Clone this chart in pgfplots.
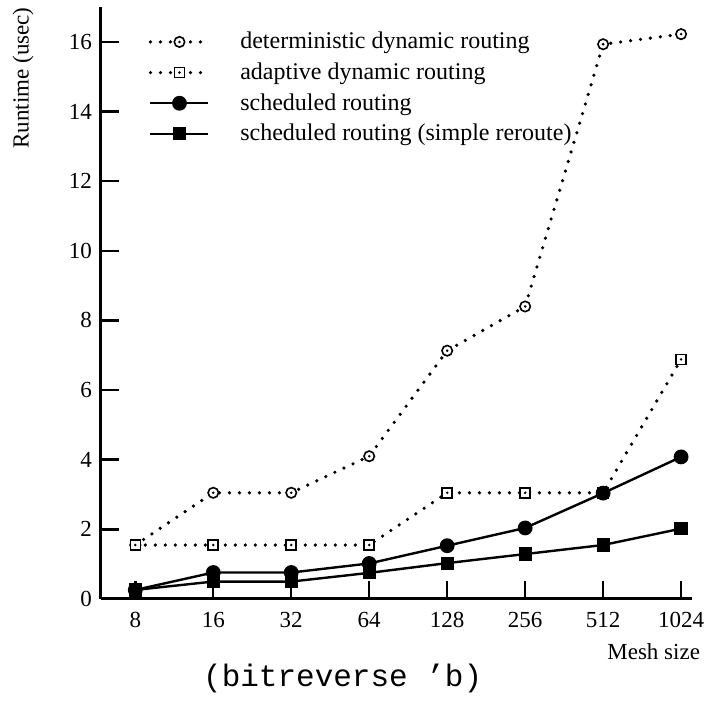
\documentclass[border=0pt]{standalone}
\usepackage{fontspec}
\setmainfont{Liberation Serif}
\setmonofont{Liberation Mono}
\usepackage{pgfplots}
\pgfplotsset{compat=1.18}

\pgfdeclareplotmark{odot}{%
  \pgfpathcircle{\pgfpointorigin}{\pgfplotmarksize}%
  \pgfusepathqfillstroke
  \begin{pgfscope}%
  \pgfpathcircle{\pgfpointorigin}{0.7pt}%
  \pgfsetfillcolor{black}\pgfusepathqfill
  \end{pgfscope}}
\pgfdeclareplotmark{sqdot}{%
  \pgfpathrectangle{\pgfqpoint{-\pgfplotmarksize}{-\pgfplotmarksize}}{\pgfqpoint{2\pgfplotmarksize}{2\pgfplotmarksize}}%
  \pgfusepathqfillstroke
  \begin{pgfscope}%
  \pgfpathcircle{\pgfpointorigin}{0.7pt}%
  \pgfsetfillcolor{black}\pgfusepathqfill
  \end{pgfscope}}

\begin{document}
\begin{tikzpicture}
\begin{axis}[
  name=ax,
  scale only axis,
  width=295.5pt, height=296pt,
  xmin=-0.44, xmax=7.14,
  ymin=0, ymax=17,
  axis x line=bottom, axis y line=left,
  axis line style={-, line width=1.5pt},
  tick align=inside,
  major tick length=9pt,
  tick style={line width=1.2pt, black},
  xtick={0,1,2,3,4,5,6,7},
  xticklabels={8,16,32,64,128,256,512,1024},
  ytick={0,2,4,6,8,10,12,14,16},
  /pgf/number format/assume math mode=true,
  ticklabel style={font=\fontsize{11.5}{13}\selectfont},
  xticklabel style={yshift=-3pt},
  yticklabel style={xshift=-1pt},
  legend cell align=left,
  legend style={draw=none, fill=none, at={(rel axis cs:0.08,0.965)}, anchor=north west,
    font=\fontsize{12}{14}\selectfont, row sep=1.5pt, column sep=13pt, inner sep=0pt},
  legend image code/.code={%
    \draw[mark repeat=2,mark phase=2] plot coordinates {(0pt,0pt) (14.5pt,0pt) (29pt,0pt)};},
  clip=false,
]
\addplot[black, line width=1.8pt, line cap=round, dash pattern=on 0pt off 5pt,
  mark=odot, mark size=2.6pt, mark options={solid, line width=0.8pt, fill=white}]
  coordinates {(0,1.55) (1,3.05) (2,3.05) (3,4.1) (4,7.13) (5,8.4) (6,15.93) (7,16.22)};
\addlegendentry{deterministic dynamic routing}
\addplot[black, line width=1.8pt, line cap=round, dash pattern=on 0pt off 5pt,
  mark=sqdot, mark size=2.5pt, mark options={solid, line width=0.8pt, fill=white}]
  coordinates {(0,1.55) (1,1.55) (2,1.55) (3,1.55) (4,3.05) (5,3.05) (6,3.05) (7,6.88)};
\addlegendentry{adaptive dynamic routing}
\addplot[black, line width=1.2pt, mark=*, mark size=3.1pt]
  coordinates {(0,0.26) (1,0.76) (2,0.76) (3,1.02) (4,1.53) (5,2.04) (6,3.04) (7,4.08)};
\addlegendentry{scheduled routing}
\addplot[black, line width=1.2pt, mark=square*, mark size=2.7pt]
  coordinates {(0,0.26) (1,0.5) (2,0.5) (3,0.75) (4,1.03) (5,1.29) (6,1.55) (7,2.02)};
\addlegendentry{scheduled routing (simple reroute)}
\node[rotate=90, font=\fontsize{11.5}{13}\selectfont] at (rel axis cs:-0.132,0.88) {Runtime (usec)};
\node[font=\fontsize{11.5}{13}\selectfont, anchor=east] at (rel axis cs:1.0254,-0.089) {Mesh size};
\node[font=\ttfamily\fontsize{15.5}{17}\selectfont] at (rel axis cs:0.409,-0.1335) {(bitreverse ’b)};
\end{axis}
\pgfresetboundingbox
\path ([xshift=-50.5pt,yshift=-52pt]ax.south west) rectangle ([xshift=7.5pt,yshift=3.5pt]ax.north east);
\end{tikzpicture}
\end{document}
